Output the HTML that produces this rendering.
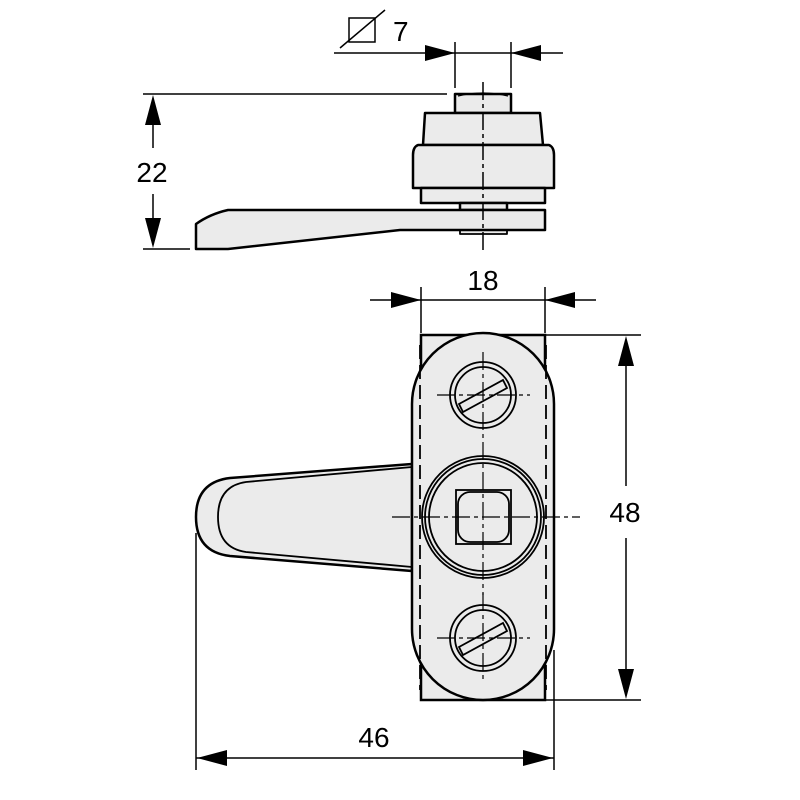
<!DOCTYPE html>
<html><head><style>html,body{margin:0;padding:0;background:#fff}svg{display:block}</style></head>
<body>
<svg width="800" height="800" viewBox="0 0 800 800" xmlns="http://www.w3.org/2000/svg" font-family="Liberation Sans, sans-serif">
<g stroke="#000" stroke-width="2.5" fill="#ebebeb" stroke-linejoin="round">
<rect x="455" y="94" width="56" height="19"/>
<path d="M425 113 L540 113 L543 145 L423 145 Z"/>
<path d="M418 145 L549 145 Q554 147 554 155 L554 188 L413 188 L413 155 Q413 147 418 145 Z"/>
<rect x="421" y="188" width="124" height="15"/>
<rect x="460" y="203" width="47" height="7"/>
<rect x="460" y="230" width="47" height="4" stroke-width="1.8"/>
<path d="M228 210 L545 210 L545 230 L400 230 L228 249 L196 249 L196 224 Q210 214 228 210 Z"/>
</g>
<g stroke="#000" stroke-width="1.5" fill="none">
<path d="M483 82 V250" stroke-dasharray="18 4 4 4"/>
<path d="M458 96 Q483 90 508 96" stroke-width="1.2"/>
</g>
<g stroke="#000" stroke-width="1.5" fill="none">
<path d="M334 53 H563"/>
<path d="M455 42 V88 M511 42 V88"/>
<path d="M143 94 H447 M143 249 H190"/>
<path d="M153 100 V148 M153 194 V243"/>
<rect x="349" y="18" width="26" height="24"/>
<path d="M340 48 L385 10"/>
</g>
<g fill="#000">
<path d="M455 53 L425 45 L425 61 Z"/>
<path d="M511 53 L541 45 L541 61 Z"/>
<path d="M153 95 L145 125 L161 125 Z"/>
<path d="M153 248 L145 218 L161 218 Z"/>
</g>
<text x="393" y="41" font-size="28">7</text>
<text x="152" y="182" font-size="28" text-anchor="middle">22</text>

<g stroke="#000" stroke-width="2.5" fill="#ebebeb">
<rect x="421" y="335" width="124" height="365"/>
<path d="M412 464 L230 478 Q196 482 196 517 Q196 552 230 556 L412 571 Z"/>
<rect x="412" y="333" width="142" height="367" rx="71" ry="71"/>
</g>
<g stroke="#000" stroke-width="1.8" fill="none">
<path d="M412 467 L246 482 Q218 486 218 517 Q218 548 246 552 L412 567"/>
<path d="M420 345 V690 M546 345 V690" stroke-dasharray="14 6"/>
<circle cx="483" cy="395" r="33"/><circle cx="483" cy="395" r="28"/>
<circle cx="483" cy="638" r="33"/><circle cx="483" cy="638" r="28"/>
<path d="M459 404 L503 380 L507 388 L463 412 Z" fill="#ebebeb"/>
<path d="M459 647 L503 623 L507 631 L463 655 Z" fill="#ebebeb"/>
<circle cx="483" cy="517" r="61"/><circle cx="483" cy="517" r="58"/><circle cx="483" cy="517" r="54"/>
<rect x="456" y="490" width="55" height="54"/>
<rect x="458" y="492" width="51" height="50" rx="12"/>
</g>
<g stroke="#000" stroke-width="1.2" fill="none" stroke-dasharray="18 4 4 4">
<path d="M483 352 V440 M437 395 H530"/>
<path d="M483 593 V680 M437 638 H530"/>
<path d="M483 442 V595 M392 517 H580"/>
</g>
<g stroke="#000" stroke-width="1.5" fill="none">
<path d="M421 287 V333 M545 287 V333"/>
<path d="M370 300 H596"/>
<path d="M500 335 H641 M500 700 H641"/>
<path d="M626 340 V486 M626 538 V695"/>
<path d="M196 533 V770 M554 650 V770"/>
<path d="M196 758 H554"/>
</g>
<g fill="#000">
<path d="M421 300 L391 292 L391 308 Z"/>
<path d="M545 300 L575 292 L575 308 Z"/>
<path d="M626 336 L618 366 L634 366 Z"/>
<path d="M626 699 L618 669 L634 669 Z"/>
<path d="M197 758 L227 750 L227 766 Z"/>
<path d="M553 758 L523 750 L523 766 Z"/>
</g>
<text x="483" y="290" font-size="28" text-anchor="middle">18</text>
<text x="625" y="522" font-size="28" text-anchor="middle">48</text>
<text x="374" y="747" font-size="28" text-anchor="middle">46</text>
</svg>
</body></html>
